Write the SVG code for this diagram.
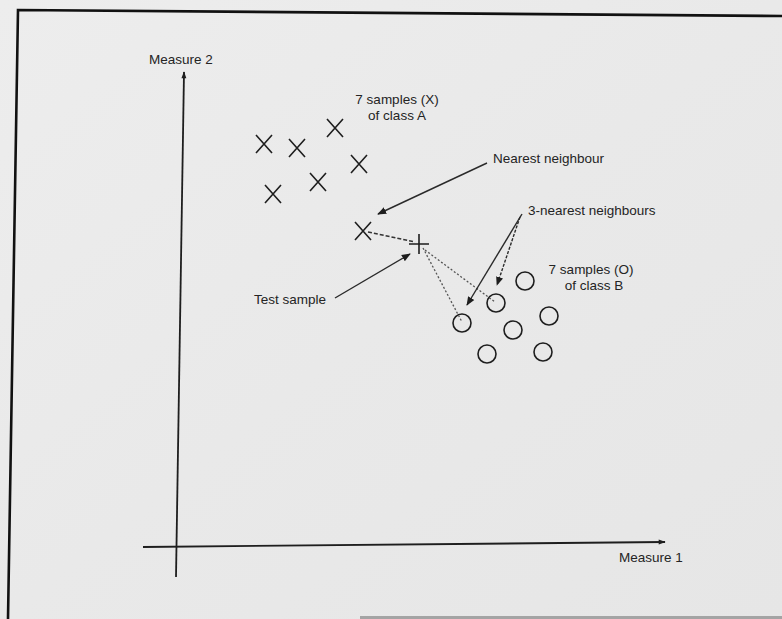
<svg xmlns="http://www.w3.org/2000/svg" width="782" height="619" viewBox="0 0 782 619">
  <defs>
    <marker id="head" viewBox="0 0 10 10" refX="9" refY="5" markerWidth="9" markerHeight="9" markerUnits="userSpaceOnUse" orient="auto">
      <path d="M0,1 L10,5 L0,9 Z" fill="#1e1e1e"/>
    </marker>
    <marker id="axisHead" viewBox="0 0 10 10" refX="9" refY="5" markerWidth="8" markerHeight="7" markerUnits="userSpaceOnUse" orient="auto">
      <path d="M0,1.5 L10,5 L0,8.5 Z" fill="#1e1e1e"/>
    </marker>
    <linearGradient id="paper" x1="0" y1="0" x2="1" y2="1">
      <stop offset="0" stop-color="#ededed"/>
      <stop offset="0.5" stop-color="#e9e9e9"/>
      <stop offset="1" stop-color="#e6e6e6"/>
    </linearGradient>
  </defs>
  <style>
    text { font-family: "Liberation Sans", Arial, sans-serif; font-size: 13.5px; fill: #242424; }
    .cross { stroke: #1e1e1e; stroke-width: 1.6; fill: none; }
    .ring { stroke: #1e1e1e; stroke-width: 1.6; fill: none; }
    .frame { stroke: #111; stroke-width: 2.6; fill: none; }
    .axis { stroke: #1e1e1e; stroke-width: 1.8; fill: none; }
    .pointer { stroke: #2a2a2a; stroke-width: 1.4; fill: none; }
    .dashed { stroke: #333; stroke-width: 1.6; stroke-dasharray: 4 2; fill: none; }
    .dotted { stroke: #555; stroke-width: 1.3; stroke-dasharray: 2 2; fill: none; }
  </style>

  <!-- paper -->
  <rect x="0" y="0" width="782" height="619" fill="url(#paper)"/>
  <rect x="360" y="616" width="422" height="3" fill="#a4a4a4"/>

  <!-- page frame -->
  <path class="frame" d="M8,619 L18,10 L782,16"/>

  <!-- axes -->
  <g id="axes">
    <line class="axis" x1="176" y1="577" x2="184" y2="72" marker-end="url(#axisHead)"/>
    <line class="axis" x1="143" y1="547" x2="665" y2="542" marker-end="url(#axisHead)"/>
    <text x="181" y="64" text-anchor="middle">Measure 2</text>
    <text x="651" y="562" text-anchor="middle">Measure 1</text>
  </g>

  <!-- class A samples -->
  <g id="classA">
    <path class="cross" d="M256,135 L272,153 M272,135 L256,153"/>
    <path class="cross" d="M289,139 L305,157 M305,139 L289,157"/>
    <path class="cross" d="M327,119 L343,137 M343,119 L327,137"/>
    <path class="cross" d="M351,155 L367,173 M367,155 L351,173"/>
    <path class="cross" d="M310,173 L326,191 M326,173 L310,191"/>
    <path class="cross" d="M265,185 L281,203 M281,185 L265,203"/>
    <text x="397" y="104" text-anchor="middle">7 samples (X)</text>
    <text x="397" y="120" text-anchor="middle">of class A</text>
  </g>

  <!-- nearest class A sample -->
  <g id="nearestX">
    <path class="cross" d="M355,222 L371,240 M371,222 L355,240"/>
  </g>

  <!-- class B samples -->
  <g id="classB">
    <circle class="ring" cx="462" cy="323" r="9"/>
    <circle class="ring" cx="496" cy="303" r="9"/>
    <circle class="ring" cx="525" cy="281" r="9"/>
    <circle class="ring" cx="549" cy="316" r="9"/>
    <circle class="ring" cx="513" cy="330" r="9"/>
    <circle class="ring" cx="487" cy="354" r="9"/>
    <circle class="ring" cx="543" cy="352" r="9"/>
    <text x="591" y="274" text-anchor="middle">7 samples (O)</text>
    <text x="594" y="290" text-anchor="middle">of class B</text>
  </g>

  <!-- test sample -->
  <g id="testSample">
    <path class="cross" d="M409,244 L429,244 M419,234 L419,254" stroke="#333"/>
    <text x="290" y="304" text-anchor="middle">Test sample</text>
  </g>

  <!-- labels -->
  <g id="nearestLabel">
    <text x="493" y="163">Nearest neighbour</text>
  </g>
  <g id="threeNearestLabel">
    <text x="528" y="215">3-nearest neighbours</text>
  </g>

  <!-- connectors -->
  <g id="connectors">
    <line class="dashed" x1="368" y1="232" x2="415" y2="242"/>
    <line class="dotted" x1="423" y1="248" x2="462" y2="322"/>
    <line class="dotted" x1="425" y1="250" x2="495" y2="302"/>
    <line class="pointer" x1="487" y1="163" x2="378" y2="214" marker-end="url(#head)"/>
    <line class="pointer" x1="335" y1="298" x2="410" y2="254" marker-end="url(#head)"/>
    <line class="pointer" x1="522" y1="214" x2="467" y2="305" marker-end="url(#head)"/>
    <line class="pointer" x1="520" y1="217" x2="497" y2="285" stroke-dasharray="3 1.5" marker-end="url(#head)"/>
  </g>
</svg>
